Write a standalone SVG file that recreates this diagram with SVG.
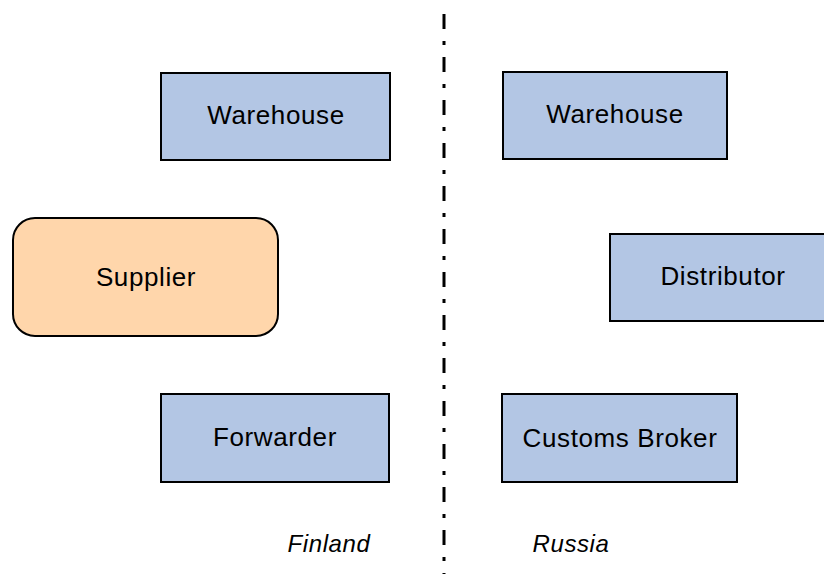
<svg xmlns="http://www.w3.org/2000/svg" width="824" height="574" viewBox="0 0 824 574">
<style>
.box{fill:#B3C6E4;stroke:#000;stroke-width:2}
.sup{fill:#FFD6AB;stroke:#000;stroke-width:2}
.t{font-family:"Liberation Sans",Arial,sans-serif;font-size:26px;letter-spacing:0.6px;fill:#000;text-anchor:middle}
.it{font-style:italic;font-size:24px}
</style>
<rect width="824" height="574" fill="#fff"/>
<g id="border">
<line x1="444" y1="14" x2="444" y2="574" stroke="#000" stroke-width="3" stroke-dasharray="15 12 4 12"/>
</g>
<g id="warehouse-fi"><rect class="box" x="161" y="73" width="229" height="87"/><text class="t" x="276" y="124">Warehouse</text></g>
<g id="warehouse-ru"><rect class="box" x="503" y="72" width="224" height="87"/><text class="t" x="615" y="123">Warehouse</text></g>
<g id="supplier"><rect class="sup" x="13" y="218" width="265" height="118" rx="22" ry="22"/><text class="t" x="146" y="286">Supplier</text></g>
<g id="distributor"><rect class="box" x="610" y="234" width="225" height="87"/><text class="t" x="723" y="285">Distributor</text></g>
<g id="forwarder"><rect class="box" x="161" y="394" width="228" height="88"/><text class="t" x="275" y="446">Forwarder</text></g>
<g id="customs-broker"><rect class="box" x="502" y="394" width="235" height="88"/><text class="t" x="620" y="447">Customs Broker</text></g>
<g id="labels">
<text class="t it" x="329" y="552">Finland</text>
<text class="t it" x="571" y="552">Russia</text>
</g>
</svg>
